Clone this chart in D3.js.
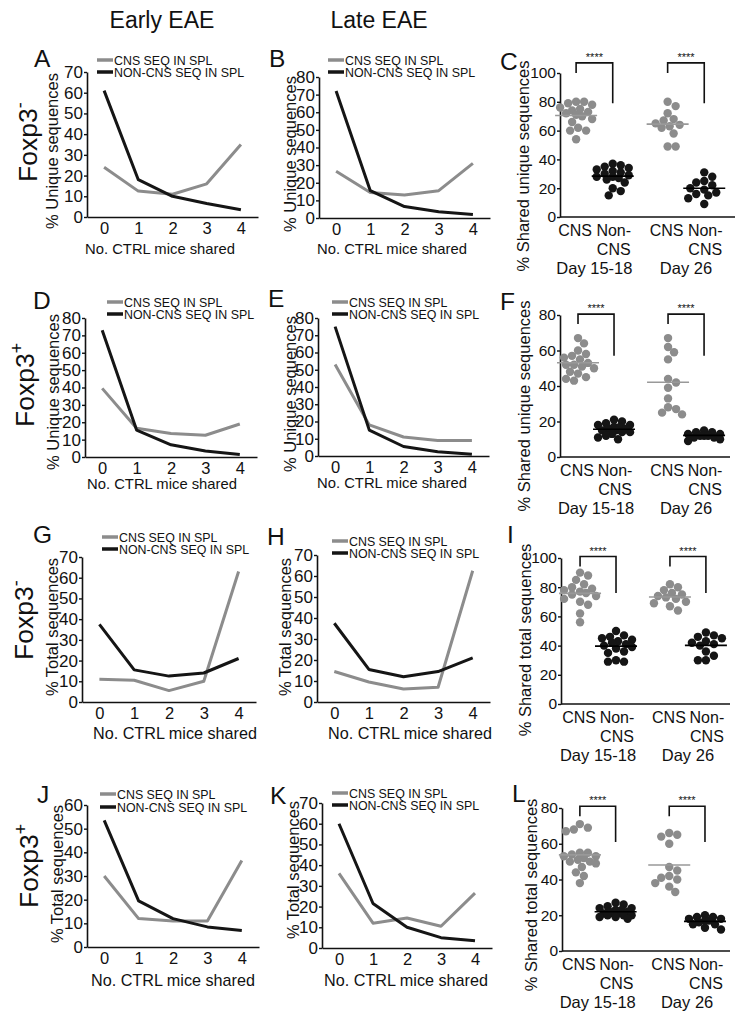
<!DOCTYPE html>
<html>
<head>
<meta charset="utf-8">
<script src="https://cdn.jsdelivr.net/npm/d3@7"></script>
<style>
  body { margin: 0; background: #fff; }
  svg text { font-family: "Liberation Sans", Arial, sans-serif; fill: #111; }
</style>
</head>
<body>
<div id="fig"></div>
<script>
// x categories of the line panels (no. of CTRL mice sharing a sequence)
var mice = [0, 1, 2, 3, 4]
var legendNames = ["CNS SEQ IN SPL", "NON-CNS SEQ IN SPL"]

// line panels, gray = CNS seq, black = non-CNS seq
var aCns = [24, 12.5, 11, 16, 35]
var aNon = [61, 18, 10, 6.5, 3.5]
var bCns = [26.5, 14.5, 13, 15.5, 31]
var bNon = [72, 15.5, 6.5, 3.5, 2]
var dCns = [39.5, 16.5, 13.5, 12.5, 19]
var dNon = [73, 15.5, 7, 3.5, 1.5]
var eCns = [53, 18, 11, 9, 9]
var eNon = [75, 15, 5.5, 2.5, 1]
var gCns = [11, 10.5, 5.5, 10, 63]
var gNon = [37.5, 15.5, 12.5, 14, 21]
var hCns = [14.5, 9.5, 6.2, 7, 62.5]
var hNon = [37.5, 15.5, 12, 14.5, 21]
var jCns = [30, 12, 11, 11, 36.5]
var jNon = [53.5, 19.5, 12, 8.5, 7]
var kCns = [36, 12, 14.5, 10.5, 26.5]
var kNon = [60, 21.5, 10, 5, 3.5]

// scatter panels: groups and per-mouse values
var groups = ["CNS", "Non-CNS", "CNS", "Non-CNS"]
var days = ["Day 15-18", "Day 26"]
var stars = "****"

var cCns1518 = [80, 80, 79, 78, 76, 75, 74, 73, 72, 71, 70, 68, 66, 62, 60, 60, 54]
var cNon1518 = [37, 36, 35, 34, 33, 32, 31, 30, 29, 28, 28, 27, 26, 24, 20, 18, 15]
var cCns26 = [80, 77, 72, 68, 67, 65, 64, 63, 62, 58, 49, 49]
var cNon26 = [31, 28, 25, 24, 22, 20, 19, 17, 16, 15, 13, 9]

var fCns1518 = [67, 64, 60, 58, 57, 56, 55, 53, 52, 52, 51, 50, 48, 47, 45, 44, 43]
var fNon1518 = [21, 20, 19, 18, 18, 17, 17, 16, 16, 15, 15, 14, 14, 13, 12, 11, 10]
var fCns26 = [67, 62, 59, 55, 44, 42, 39, 33, 28, 27, 25, 24]
var fNon26 = [15, 14, 14, 13, 13, 12, 12, 12, 11, 11, 10, 9]

var iCns1518 = [90, 88, 85, 82, 80, 79, 78, 77, 76, 75, 74, 72, 70, 68, 62, 56]
var iNon1518 = [50, 47, 46, 45, 44, 43, 42, 41, 40, 39, 38, 36, 35, 30, 29, 29]
var iCns26 = [82, 80, 78, 76, 75, 74, 73, 72, 70, 69, 67, 64]
var iNon26 = [49, 47, 46, 45, 43, 42, 41, 40, 36, 33, 30, 30]

var lCns1518 = [71, 69, 68, 67, 55, 55, 54, 53, 53, 52, 51, 50, 50, 49, 47, 44, 42, 38]
var lNon1518 = [27, 26, 25, 24, 24, 23, 23, 22, 22, 21, 21, 21, 20, 20, 20, 19, 19, 18]
var lCns26 = [66, 65, 64, 60, 47, 45, 42, 41, 40, 38, 36, 33]
var lNon26 = [20, 19, 19, 18, 18, 17, 17, 16, 15, 15, 13, 12]

var gray = "#8c8c8c"
var black = "#151515"

var svg = d3.select("#fig")
  .append("svg")
    .attr("width", 743)
    .attr("height", 1018)

// column headers
svg.append("text").attr("x", 162).attr("y", 28).attr("text-anchor", "middle")
  .attr("font-size", 23).text("Early EAE")
svg.append("text").attr("x", 379).attr("y", 28).attr("text-anchor", "middle")
  .attr("font-size", 23).text("Late EAE")

// row labels, rotated
var rows = [
  {x: 37, y: 182, sup: "-"},
  {x: 34, y: 427, sup: "+"},
  {x: 33, y: 660, sup: "-"},
  {x: 38, y: 908, sup: "+"}
]
rows.forEach(function(r) {
  var t = svg.append("text")
    .attr("transform", "translate(" + r.x + "," + r.y + ") rotate(-90)")
    .attr("font-size", 26.5)
  t.append("tspan").text("Foxp3")
  t.append("tspan").attr("font-size", 18).attr("dy", -11).text(r.sup)
})

function styleAxis(sel, size) {
  sel.attr("font-size", null).attr("font-family", null)
  sel.select(".domain").attr("stroke", "#111").attr("stroke-width", 1.6)
  sel.selectAll(".tick line").attr("stroke", "#111").attr("stroke-width", 1.4)
  sel.selectAll(".tick text").attr("font-size", size).attr("fill", "#111")
}

function letter(l, x, y) {
  svg.append("text").attr("x", x).attr("y", y).attr("font-size", 24.5).text(l)
}

function yTitle(txt, cx, cy, size) {
  svg.append("text")
    .attr("transform", "translate(" + (cx + 6) + "," + cy + ") rotate(-90)")
    .attr("text-anchor", "middle")
    .attr("font-size", size)
    .text(txt)
}

// line panel
function linePanel(p) {
  var x = d3.scalePoint().domain(mice).range([p.x0, p.x1]).padding(0.5)
  var y = d3.scaleLinear().domain([0, p.ymax]).range([p.y0, p.y1])

  svg.append("g")
    .attr("transform", "translate(0," + p.y0 + ")")
    .call(d3.axisBottom(x).tickSize(0).tickPadding(5))
    .call(styleAxis, 16.5)

  svg.append("g")
    .attr("transform", "translate(" + p.x0 + ",0)")
    .call(d3.axisLeft(y).tickValues(d3.range(0, p.ymax + 1, 10)).tickSizeInner(3).tickSizeOuter(0).tickPadding(1))
    .call(styleAxis, 17)

  var line = d3.line()
    .x(function(d, i) { return x(mice[i]) })
    .y(function(d) { return y(d) })

  svg.append("path").datum(p.cns).attr("d", line)
    .attr("fill", "none").attr("stroke", gray).attr("stroke-width", 3)
    .attr("stroke-linejoin", "round")
  svg.append("path").datum(p.non).attr("d", line)
    .attr("fill", "none").attr("stroke", black).attr("stroke-width", 3)
    .attr("stroke-linejoin", "round")

  // legend
  var cols = [gray, black]
  legendNames.forEach(function(n, i) {
    var ly = p.ly + i * p.lgap
    svg.append("line").attr("x1", p.lx).attr("x2", p.lx + 16)
      .attr("y1", ly).attr("y2", ly)
      .attr("stroke", cols[i]).attr("stroke-width", 3.5)
    svg.append("text").attr("x", p.lx + 17).attr("y", ly + 4.5)
      .attr("font-size", 12.4).text(n)
  })

  yTitle(p.title, p.tx, p.ty, 16.5)
  svg.append("text").attr("x", p.xtx).attr("y", p.y0 + p.xtOff)
    .attr("text-anchor", "middle").attr("font-size", p.xtSize)
    .text("No. CTRL mice shared")
  letter(p.letter, p.lex, p.ley)
}

// beeswarm kept inside +-maxOff px, overlapping like the original when crowded
function swarm(vals, cx, y, r, maxOff) {
  var placed = []
  vals.slice().sort(d3.descending).forEach(function(v) {
    var cy = y(v), best = 0, bestD = -1
    for (var k = 0; k < 60; k++) {
      var off = (k % 2 ? 1 : -1) * Math.ceil(k / 2) * 2
      if (Math.abs(off) > maxOff) break
      var dmin = placed.length ? d3.min(placed, function(q) {
        return Math.hypot(q.x - cx - off, q.y - cy)
      }) : Infinity
      if (dmin >= 2 * r * 0.95) { best = off; break }
      if (dmin > bestD + 0.5) { bestD = dmin; best = off }
    }
    placed.push({x: cx + best, y: cy})
  })
  return placed
}

var groupPos = [0, 1, 2.5, 3.5]

function dotPanel(p) {
  var x = d3.scaleLinear().domain(p.xdom).range([p.x0, p.x1])
  var y = d3.scaleLinear().domain([0, p.ymax]).range([p.y0, p.y1])
  var r = 4.2

  svg.append("line").attr("x1", p.x0).attr("x2", p.x1)
    .attr("y1", p.y0).attr("y2", p.y0)
    .attr("stroke", "#111").attr("stroke-width", 1.6)

  svg.append("g")
    .attr("transform", "translate(" + p.x0 + ",0)")
    .call(d3.axisLeft(y).tickValues(d3.range(0, p.ymax + 1, 20)).tickSizeInner(3).tickSizeOuter(0).tickPadding(1))
    .call(styleAxis, 15.5)

  p.sets.forEach(function(vals, i) {
    var col = i % 2 ? black : gray
    var cx = x(groupPos[i])
    svg.append("g").selectAll("circle")
      .data(swarm(vals, cx, y, r, 16))
      .join("circle")
        .attr("cx", function(d) { return d.x })
        .attr("cy", function(d) { return d.y })
        .attr("r", r)
        .attr("fill", col)
    var m = d3.mean(vals)
    svg.append("line").attr("x1", cx - 21).attr("x2", cx + 21)
      .attr("y1", y(m)).attr("y2", y(m))
      .attr("stroke", i % 2 ? "#000" : "#999").attr("stroke-width", 1.6)

    // category labels
    if (groups[i] === "CNS") {
      svg.append("text").attr("x", cx - 1).attr("y", p.y0 + 19)
        .attr("text-anchor", "middle").attr("font-size", 16).text("CNS")
    } else {
      svg.append("text").attr("x", cx + 1).attr("y", p.y0 + 19)
        .attr("text-anchor", "middle").attr("font-size", 16).text("Non-")
      svg.append("text").attr("x", cx + 1).attr("y", p.y0 + 38)
        .attr("text-anchor", "middle").attr("font-size", 16).text("CNS")
    }
  })

  days.forEach(function(d, j) {
    var xl = x(groupPos[j * 2]), xr = x(groupPos[j * 2 + 1])
    svg.append("text").attr("x", (xl + xr) / 2).attr("y", p.y0 + 57)
      .attr("text-anchor", "middle").attr("font-size", 16.5).text(d)

    // significance bracket
    var top = y(p.sig[0])
    svg.append("path")
      .attr("d", "M" + xl + "," + (top + 10) + "V" + top + "H" + xr + "V" + y(p.sig[1]))
      .attr("fill", "none").attr("stroke", "#111").attr("stroke-width", 1.6)
    svg.append("text").attr("x", (xl + xr) / 2).attr("y", top - 2)
      .attr("text-anchor", "middle").attr("font-size", 11).attr("fill", "#111").text(stars)
  })

  yTitle(p.title, p.tx, p.ty, 16.5)
  letter(p.letter, p.lex, p.ley)
}

var unique = "% Unique sequences"
var total = "% Total sequences"

linePanel({letter: "A", lex: 34, ley: 67, cns: aCns, non: aNon, ymax: 70,
  x0: 87, x1: 258, y0: 217, y1: 72, lx: 97, ly: 60, lgap: 12,
  title: unique, tx: 52, ty: 151, xtx: 160, xtOff: 37, xtSize: 14.8})
linePanel({letter: "B", lex: 269, ley: 67, cns: bCns, non: bNon, ymax: 80,
  x0: 319, x1: 490, y0: 218, y1: 77, lx: 328, ly: 60, lgap: 12,
  title: unique, tx: 290, ty: 154, xtx: 392, xtOff: 36, xtSize: 14.8})
linePanel({letter: "D", lex: 33, ley: 309, cns: dCns, non: dNon, ymax: 80,
  x0: 85, x1: 257, y0: 457, y1: 318, lx: 107, ly: 302, lgap: 12,
  title: unique, tx: 53, ty: 392, xtx: 162, xtOff: 32, xtSize: 14.8})
linePanel({letter: "E", lex: 268, ley: 307, cns: eCns, non: eNon, ymax: 80,
  x0: 318, x1: 489, y0: 456, y1: 318, lx: 332, ly: 302, lgap: 12,
  title: unique, tx: 290, ty: 394, xtx: 392, xtOff: 32, xtSize: 14.8})
linePanel({letter: "G", lex: 33, ley: 543, cns: gCns, non: gNon, ymax: 70,
  x0: 82, x1: 256, y0: 702, y1: 557, lx: 102, ly: 537, lgap: 12,
  title: total, tx: 52, ty: 627, xtx: 175, xtOff: 37, xtSize: 16.2})
linePanel({letter: "H", lex: 267, ley: 545, cns: hCns, non: hNon, ymax: 70,
  x0: 317, x1: 490, y0: 702, y1: 555, lx: 332, ly: 541, lgap: 12,
  title: total, tx: 285, ty: 627, xtx: 410, xtOff: 37, xtSize: 16.2})
linePanel({letter: "J", lex: 37, ley: 803, cns: jCns, non: jNon, ymax: 60,
  x0: 87, x1: 259, y0: 947, y1: 805, lx: 100, ly: 794, lgap: 13,
  title: total, tx: 57, ty: 874, xtx: 173, xtOff: 39, xtSize: 16.2})
linePanel({letter: "K", lex: 270, ley: 804, cns: kCns, non: kNon, ymax: 70,
  x0: 322, x1: 492, y0: 948, y1: 803, lx: 332, ly: 793, lgap: 12,
  title: total, tx: 293, ty: 870, xtx: 406, xtOff: 38, xtSize: 16.2})

dotPanel({letter: "C", lex: 500, ley: 70, ymax: 100, xdom: [-0.44, 4.34],
  x0: 560, x1: 735, y0: 217, y1: 73, sig: [107, 79],
  sets: [cCns1518, cNon1518, cCns26, cNon26],
  title: "% Shared unique sequences", tx: 523, ty: 166})
dotPanel({letter: "F", lex: 500, ley: 310, ymax: 80, xdom: [-0.5, 4.22],
  x0: 560, x1: 730, y0: 457, y1: 315, sig: [80.5, 57],
  sets: [fCns1518, fNon1518, fCns26, fNon26],
  title: "% Shared unique sequences", tx: 524, ty: 406})
dotPanel({letter: "I", lex: 507, ley: 543, ymax: 100, xdom: [-0.53, 4.17],
  x0: 561, x1: 730, y0: 704, y1: 558, sig: [101, 76],
  sets: [iCns1518, iNon1518, iCns26, iNon26],
  title: "% Shared total sequences", tx: 525, ty: 640})
dotPanel({letter: "L", lex: 512, ley: 802, ymax: 80, xdom: [-0.5, 4.2],
  x0: 562, x1: 730, y0: 951, y1: 808, sig: [81, 61],
  sets: [lCns1518, lNon1518, lCns26, lNon26],
  title: "% Shared total sequences", tx: 531, ty: 895})
</script>
</body>
</html>
